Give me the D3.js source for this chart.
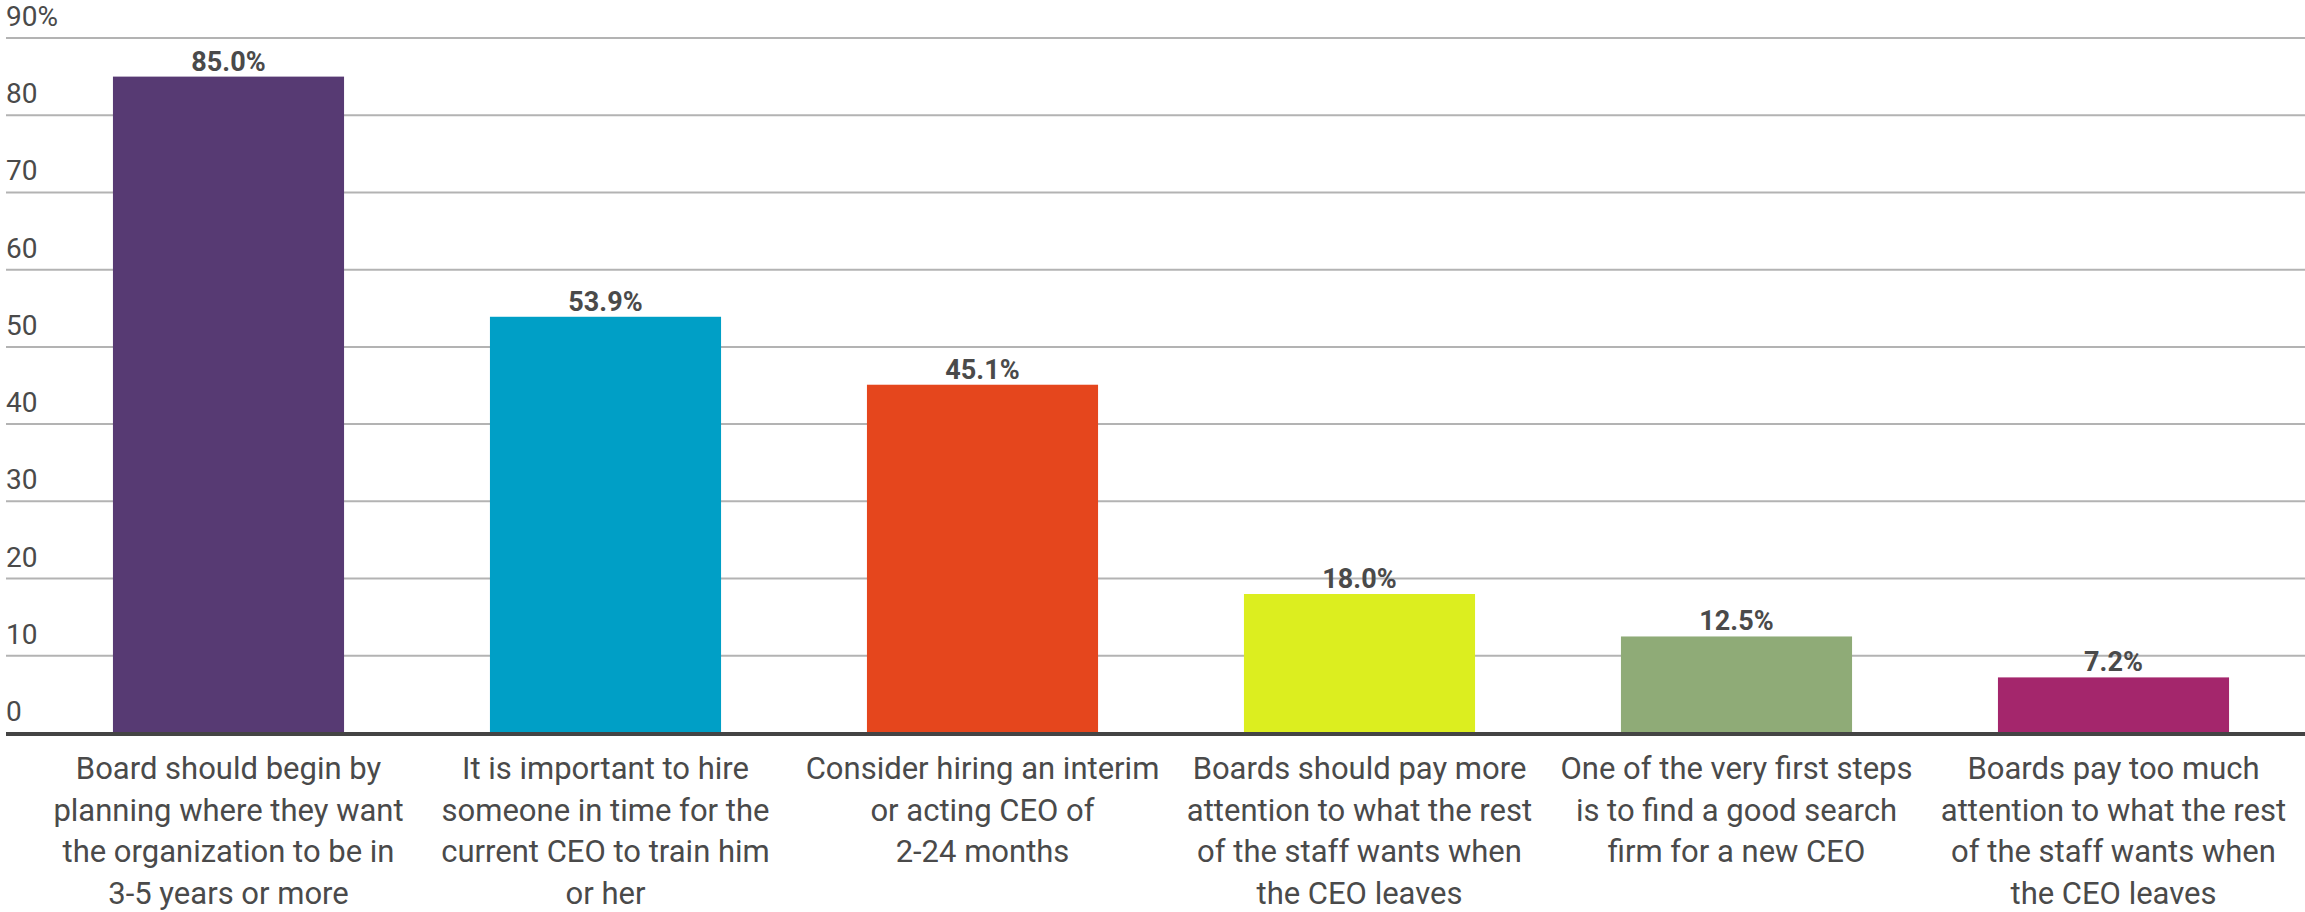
<!DOCTYPE html>
<html>
<head>
<meta charset="utf-8">
<script src="https://cdn.jsdelivr.net/npm/d3@7"></script>
<style>
  html, body { margin: 0; padding: 0; background: #ffffff; }
  svg { display: block; }
  text { font-family: Roboto, "Liberation Sans", sans-serif; fill: #4a4a4a; }
</style>
</head>
<body>
<svg id="chart" width="2305" height="912"></svg>
<script>
// Survey responses: share of respondents agreeing with each statement
const categories = [
  ["Board should begin by", "planning where they want", "the organization to be in", "3-5 years or more"],
  ["It is important to hire", "someone in time for the", "current CEO to train him", "or her"],
  ["Consider hiring an interim", "or acting CEO of", "2-24 months"],
  ["Boards should pay more", "attention to what the rest", "of the staff wants when", "the CEO leaves"],
  ["One of the very first steps", "is to find a good search", "firm for a new CEO"],
  ["Boards pay too much", "attention to what the rest", "of the staff wants when", "the CEO leaves"]
];
const values = [85.0, 53.9, 45.1, 18.0, 12.5, 7.2];
const colors = ["#573a73", "#009fc6", "#e5461d", "#dcee1f", "#8fab77", "#a4266c"];
const yTicks = [0, 10, 20, 30, 40, 50, 60, 70, 80, 90];

const W = 2305, H = 912;
const svg = d3.select("#chart");

const x = d3.scaleBand()
  .domain(d3.range(values.length))
  .range([40, 2302])
  .paddingInner(0.387)
  .paddingOuter(0.1935);

const y = d3.scaleLinear().domain([0, 90]).range([733, 38]);

// horizontal gridlines
svg.append("g")
  .selectAll("line")
  .data(yTicks.filter(t => t > 0))
  .join("line")
  .attr("x1", 6).attr("x2", W)
  .attr("y1", d => y(d)).attr("y2", d => y(d))
  .attr("stroke", "#b3b3b3")
  .attr("stroke-width", 2);

// y tick labels, sitting above each gridline
svg.append("g")
  .selectAll("text")
  .data(yTicks)
  .join("text")
  .attr("x", 6)
  .attr("y", d => y(d) - 12)
  .attr("font-size", 28)
  .text(d => d === 90 ? "90%" : d);

// bars
svg.append("g")
  .selectAll("rect")
  .data(values)
  .join("rect")
  .attr("x", (d, i) => x(i))
  .attr("width", x.bandwidth())
  .attr("y", d => y(d))
  .attr("height", d => y(0) - y(d))
  .attr("fill", (d, i) => colors[i]);

// value labels
svg.append("g")
  .selectAll("text")
  .data(values)
  .join("text")
  .attr("x", (d, i) => x(i) + x.bandwidth() / 2)
  .attr("y", d => y(d) - 6)
  .attr("text-anchor", "middle")
  .attr("font-size", 27)
  .attr("font-weight", "bold")
  .text(d => d.toFixed(1) + "%");

// baseline
svg.append("line")
  .attr("x1", 6).attr("x2", W)
  .attr("y1", y(0) + 1).attr("y2", y(0) + 1)
  .attr("stroke", "#444444")
  .attr("stroke-width", 4);

// category labels, wrapped onto several lines
const lab = svg.append("g")
  .selectAll("text")
  .data(categories)
  .join("text")
  .attr("text-anchor", "middle")
  .attr("font-size", 31)
  .attr("x", (d, i) => x(i) + x.bandwidth() / 2)
  .attr("y", 779);
lab.selectAll("tspan")
  .data(d => d)
  .join("tspan")
  .attr("x", function () { return d3.select(this.parentNode).attr("x"); })
  .attr("y", (d, j) => 779 + j * 41.7)
  .text(d => d);
</script>
</body>
</html>
